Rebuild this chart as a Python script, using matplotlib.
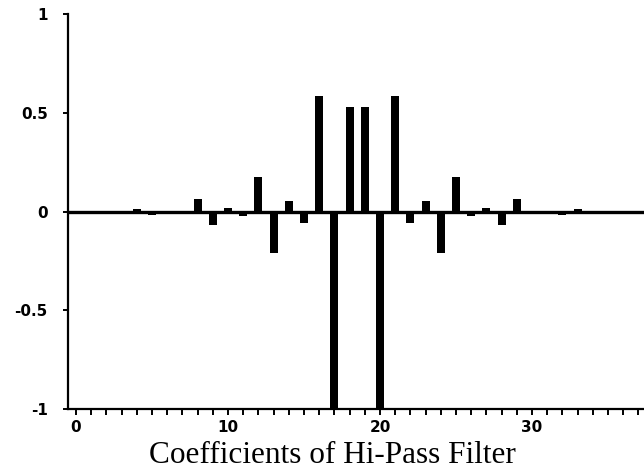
import matplotlib
matplotlib.use("Agg")
import matplotlib.pyplot as plt
from matplotlib.ticker import MultipleLocator

# coefficient index and value
coef_index = list(range(38))
coef_value = [0.0, 0.0, 0.0, 0.0, 0.015, -0.019, 0.0, -0.009, 0.065, -0.069,
              0.019, -0.024, 0.176, -0.21, 0.055, -0.059, 0.584, -1.0, 0.53, 0.53,
              -1.0, 0.584, -0.059, 0.055, -0.21, 0.176, -0.024, 0.019, -0.069, 0.065,
              -0.009, 0.0, -0.019, 0.015, 0.0, 0.0, 0.0, 0.0]
x_labels = [0, 10, 20, 30]
y_labels = [-1, -0.5, 0, 0.5, 1]
title = "Coefficients of Hi-Pass Filter"

W, H = 644, 472
fig = plt.figure(figsize=(W / 100, H / 100), dpi=100)
ax = fig.add_axes([68 / W, (H - 409) / H, (W - 68) / W, (409 - 14) / H])

ax.bar(coef_index, coef_value, width=0.52, color="black", zorder=2)
ax.axhline(0, color="black", linewidth=2.4, zorder=3)

ax.set_xlim(-0.53, 37.37)
ax.set_ylim(-1, 1)

for side in ("top", "right"):
    ax.spines[side].set_visible(False)
for side in ("left", "bottom"):
    ax.spines[side].set_linewidth(1.6)

ax.set_xticks(x_labels)
ax.set_xticklabels([str(v) for v in x_labels])
ax.xaxis.set_minor_locator(MultipleLocator(1))
ax.set_yticks(y_labels)
ax.set_yticklabels(["-1", "-0.5", "0", "0.5", "1"])

ax.tick_params(axis="x", which="both", direction="out", length=4.2, width=1.4, pad=4)
ax.tick_params(axis="y", which="major", direction="out", length=3.5, width=1.4, pad=11)
for lab in ax.get_xticklabels() + ax.get_yticklabels():
    lab.set_fontfamily("DejaVu Sans")
    lab.set_fontweight("heavy")
    lab.set_fontsize(11)

fig.text(332 / W, (H - 463) / H, title, ha="center", va="baseline",
         fontfamily="Liberation Serif", fontsize=22.5)

fig.savefig("out.png", dpi=100)
